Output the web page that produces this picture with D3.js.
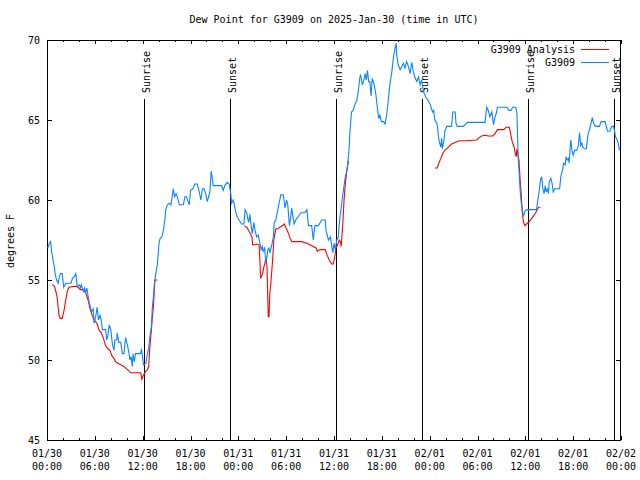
<!DOCTYPE html>
<html>
<head>
<meta charset="utf-8">
<script src="https://cdn.jsdelivr.net/npm/d3@7"></script>
<style>
html,body{margin:0;padding:0;background:#fff;}
svg{display:block;}
text{font-family:"DejaVu Sans Mono","Liberation Mono",monospace;font-size:10px;fill:#000;}
</style>
</head>
<body>
<script>
// ---- data (hours since 2025-01-30 00:00 UTC) ----
const titleText = "Dew Point for G3909 on 2025-Jan-30 (time in UTC)";
const yLabel = "degrees F";
const yTicks = [45, 50, 55, 60, 65, 70];
const xTickHours = [0, 6, 12, 18, 24, 30, 36, 42, 48, 54, 60, 66, 72];
const xTickDates = ["01/30","01/30","01/30","01/30","01/31","01/31","01/31","01/31","02/01","02/01","02/01","02/01","02/02"];
const xTickTimes = ["00:00","06:00","12:00","18:00","00:00","06:00","12:00","18:00","00:00","06:00","12:00","18:00","00:00"];
const sunLabels = ["Sunrise","Sunset","Sunrise","Sunset","Sunrise","Sunset"];
const sunHours = [12.2, 23.0, 36.25, 47.05, 60.3, 71.15];
const seriesNames = ["G3909 Analysis", "G3909"];

const stationHours = [0.1,0.3,0.45,0.55,0.8,0.9,1.0,1.2,1.4,1.5,1.7,1.9,2.1,2.35,3.0,3.2,3.4,3.6,3.7,3.8,4.05,4.2,4.3,4.55,4.7,4.85,5.0,5.15,5.3,5.5,5.6,5.8,5.9,6.1,6.3,6.45,6.65,6.8,6.95,7.35,7.5,7.65,7.8,8.0,8.2,8.4,8.5,8.75,8.8,9.0,9.25,9.45,9.65,9.85,10.1,10.3,10.4,10.55,10.7,10.8,10.95,11.1,11.75,11.85,12.0,12.1,12.4,12.6,12.75,12.9,13.1,13.2,13.35,13.5,13.65,13.85,14.05,14.2,14.4,14.6,14.8,14.9,15.1,15.35,15.55,15.7,15.85,16.0,16.2,16.35,16.6,17.1,17.3,17.5,17.7,17.85,18.0,18.3,18.55,18.85,19.1,19.3,19.5,19.7,19.9,20.1,20.3,20.45,20.6,20.7,20.85,21.9,22.1,22.3,22.6,22.85,23.05,23.15,23.35,23.5,23.7,23.9,24.1,24.4,24.7,24.85,25.05,25.15,25.3,25.45,25.6,25.75,25.95,26.1,26.3,26.5,26.7,26.85,27.0,27.1,27.3,27.45,27.55,27.7,27.85,27.95,28.2,28.4,28.5,28.7,28.95,29.15,29.35,29.65,29.85,30.05,30.2,30.4,30.55,30.7,30.85,31.0,31.2,31.5,31.85,32.35,32.6,32.8,33.2,33.4,33.6,34.05,34.45,34.9,35.0,35.3,35.55,35.85,36.0,36.15,36.35,36.55,36.65,36.8,36.95,37.15,37.4,37.6,37.75,37.9,38.0,38.2,38.4,38.6,38.85,39.05,39.25,39.35,39.55,39.75,39.9,40.05,40.2,40.35,40.5,40.65,40.8,41.05,41.25,41.4,41.6,41.75,41.95,42.2,42.4,42.6,42.8,43.0,43.25,43.45,43.65,43.8,43.85,44.05,44.3,44.5,44.7,44.9,45.1,45.3,45.55,45.75,45.95,46.15,46.4,46.6,46.8,47.0,47.2,47.55,47.7,48.05,48.35,48.5,48.65,48.9,49.0,49.1,49.2,49.4,49.5,49.6,49.8,49.9,50.15,50.75,50.9,51.2,51.3,51.45,52.2,52.45,52.7,54.95,55.15,55.35,55.55,55.8,56.0,56.2,56.35,56.5,57.0,57.7,57.95,58.2,58.4,58.8,58.95,59.1,59.2,59.35,59.45,59.65,59.8,59.95,60.15,61.4,61.6,61.75,61.9,62.05,62.2,62.35,62.5,62.6,62.75,62.9,63.0,63.2,63.35,63.5,63.7,64.3,64.45,64.7,64.8,65.0,65.1,65.25,65.4,65.5,65.6,65.7,65.85,66.0,66.2,66.45,66.65,66.8,66.95,67.1,67.2,67.4,67.65,67.85,68.05,68.25,68.4,68.55,68.8,69.3,69.5,70.0,70.15,70.3,70.6,70.85,71.05,71.2,71.3,71.45,71.65,71.8];
const stationValues = [57.0,57.3,57.4,56.9,56.1,55.9,55.45,55.0,54.8,55.1,55.4,55.4,54.55,54.8,54.8,55.1,55.2,55.4,55.0,54.6,54.7,54.5,54.7,54.3,54.5,54.2,54.5,54.0,53.6,53.2,53.0,53.2,52.3,52.7,53.3,52.5,52.8,52.5,51.9,51.9,51.25,51.6,52.2,51.9,51.0,50.6,51.25,51.25,51.7,51.1,51.1,50.4,50.4,51.4,50.9,50.4,50.0,50.2,49.6,50.4,49.9,50.4,50.4,50.7,50.1,49.7,49.8,50.4,50.7,51.45,52.1,53.2,54.0,54.9,55.4,56.0,57.3,57.6,57.7,58.1,58.85,59.4,59.7,59.8,59.7,60.2,60.7,60.2,60.4,60.2,59.7,59.7,60.2,60.2,59.9,59.7,60.6,60.7,61.0,61.0,60.5,60.0,60.7,60.7,60.4,59.9,60.25,60.6,61.8,61.5,60.9,60.9,60.6,60.9,61.1,61.0,60.4,59.8,60.0,59.7,59.2,58.9,58.75,58.5,58.5,59.4,59.2,58.9,58.6,59.1,58.4,57.9,58.6,58.1,57.7,57.8,57.3,56.9,57.1,56.8,57.0,56.1,56.3,56.9,57.0,56.7,57.2,57.7,58.6,58.75,59.4,59.9,60.35,60.3,59.5,60.0,59.7,58.4,58.85,59.5,58.95,58.5,58.75,58.95,59.2,59.2,59.4,58.4,58.4,57.5,58.4,58.4,58.75,58.75,58.1,57.5,57.7,56.7,57.3,56.9,57.5,57.7,58.45,59.1,59.7,60.5,61.4,61.8,62.4,63.25,64.3,65.5,65.6,65.95,66.2,66.8,67.7,67.8,67.2,67.5,67.9,67.5,68.1,67.4,67.4,66.5,67.6,67.2,66.6,65.95,65.1,65.3,64.9,64.9,64.75,65.3,66.2,67.2,68.0,68.9,69.5,69.8,69.1,68.45,68.15,68.35,68.55,68.25,68.65,68.4,67.9,68.6,68.05,67.65,67.4,67.7,67.2,67.5,66.8,66.4,66.3,66.0,65.5,65.6,65.0,64.8,64.5,63.95,63.65,63.3,63.85,63.2,63.75,64.3,64.6,64.6,65.5,65.5,64.8,64.6,64.6,64.7,64.85,64.85,65.8,65.6,65.2,65.5,64.7,65.2,65.4,65.8,65.8,65.8,65.6,65.6,65.8,65.8,65.4,62.7,61.9,60.6,60.0,59.2,59.05,59.3,59.4,59.4,60.1,60.6,61.25,61.45,60.7,60.4,60.9,60.5,60.7,60.4,61.15,61.35,61.05,60.5,60.7,60.7,61.45,61.95,62.3,62.2,62.7,62.5,62.6,62.3,63.1,63.75,63.1,62.8,63.1,63.1,63.4,64.2,63.4,63.55,63.3,63.2,63.2,64.05,64.4,64.8,65.15,64.8,64.6,64.6,64.9,64.9,64.6,64.3,64.3,64.6,64.6,64.3,63.95,63.85,63.55,63.1];

// analysis series; null marks a gap in the record
const analysisHours = [0.67,0.95,1.1,1.25,1.4,1.5,1.65,1.9,2.1,2.35,2.55,2.75,3.4,3.7,4.0,4.2,4.55,4.85,5.15,5.4,5.7,5.9,6.1,6.3,6.5,6.8,7.05,7.35,7.65,7.9,8.1,8.4,8.6,8.9,9.25,9.65,10.1,10.5,11.75,11.9,12.0,12.15,12.4,12.6,12.75,12.9,13.1,13.2,13.35,13.45,13.55,13.85,
  19.0,
  24.75,25.05,25.4,25.7,25.8,26.1,26.3,26.6,26.7,26.8,27.05,27.2,27.35,27.45,27.6,27.75,27.85,27.95,28.05,28.3,28.45,28.7,29.0,29.2,29.55,29.75,29.95,30.3,30.5,30.7,31.95,32.6,33.0,33.4,33.75,33.9,34.25,34.9,35.1,35.4,35.7,35.9,36.1,36.25,36.45,36.65,36.8,36.9,37.1,37.25,37.4,37.6,37.8,37.9,
  43.0,
  48.65,48.95,49.15,49.4,49.55,49.7,49.9,50.35,50.75,51.2,51.7,52.45,53.9,54.2,54.5,54.95,55.35,55.9,56.2,56.5,56.8,57.3,57.6,58.0,58.15,58.35,58.6,58.7,58.85,58.95,59.05,59.2,59.35,59.45,59.6,59.75,59.95,60.15,60.5,60.8,61.1,61.4,61.65,61.9];
const analysisValues = [54.7,54.6,54.3,54.0,53.3,52.8,52.6,52.6,53.0,53.75,54.3,54.55,54.6,54.6,54.5,54.4,54.4,54.2,53.75,53.2,52.75,52.5,52.4,52.25,51.9,51.7,51.4,50.9,50.7,50.6,50.3,50.1,49.9,49.8,49.7,49.6,49.4,49.2,49.2,48.8,48.95,49.1,49.3,49.4,49.6,50.8,51.9,52.6,53.3,54.3,55.0,55.0,
  null,
  58.4,58.3,58.0,57.7,57.2,57.2,57.25,57.2,56.25,55.1,55.4,55.8,56.1,56.45,55.8,52.7,52.7,54.2,54.6,56.25,57.5,58.2,58.2,58.3,58.4,58.5,58.3,57.9,57.6,57.4,57.4,57.3,57.2,57.1,57.0,56.8,56.9,56.9,56.6,56.25,56.0,56.0,56.45,57.0,57.2,57.5,57.4,57.1,58.45,59.9,60.9,61.8,62.4,62.4,
  null,
  62.0,62.0,62.3,62.6,62.8,62.95,63.1,63.3,63.5,63.6,63.7,63.7,63.75,63.9,64.0,64.05,64.0,64.0,64.15,64.4,64.4,64.4,64.55,64.55,64.15,63.65,63.3,63.0,62.7,63.2,62.9,62.5,61.25,60.6,59.4,58.65,58.4,58.5,58.65,58.85,59.05,59.3,59.55,59.55];

// ---- drawing ----
const W = 640, H = 480;
const L = 47, R = 621, T = 40, B = 440;
const svg = d3.select("body").append("svg").attr("width", W).attr("height", H);
svg.append("rect").attr("width", W).attr("height", H).attr("fill", "#fff");

const x = d3.scaleLinear().domain([0, 72]).range([L, R]);
const y = d3.scaleLinear().domain([45, 70]).range([B, T]);

const minorHours = d3.range(0, 73, 2).filter(h => h % 6 !== 0);

// axes with inward ticks on all four sides
function tickAxis(axisFn, scale, vals, size, tx, ty) {
  svg.append("g").attr("transform", `translate(${tx},${ty})`)
    .call(axisFn(scale).tickValues(vals).tickSizeInner(-size).tickSizeOuter(0).tickFormat(""))
    .call(g => g.select(".domain").remove())
    .call(g => g.selectAll("line").attr("stroke", "#000").attr("shape-rendering", "crispEdges"));
}
tickAxis(d3.axisBottom, x, xTickHours, 4, 0, B);
tickAxis(d3.axisBottom, x, minorHours, 2, 0, B);
tickAxis(d3.axisTop, x, xTickHours, 4, 0, T);
tickAxis(d3.axisTop, x, minorHours, 2, 0, T);
tickAxis(d3.axisLeft, y, yTicks, 5, L, 0);
tickAxis(d3.axisRight, y, yTicks, 5, R, 0);

// frame
svg.append("rect").attr("x", L + 0.5).attr("y", T + 0.5).attr("width", R - L - 1).attr("height", B - T)
  .attr("fill", "none").attr("stroke", "#000").attr("shape-rendering", "crispEdges");

// y tick labels
svg.append("g").selectAll("text").data(yTicks).join("text")
  .attr("x", L - 7).attr("y", d => y(d)).attr("dy", "0.35em")
  .attr("text-anchor", "end").text(d => d);

// x tick labels (two lines)
const xl = svg.append("g").selectAll("text").data(xTickHours).join("text")
  .attr("text-anchor", "middle");
xl.append("tspan").attr("x", d => x(d)).attr("y", 457).text((d, i) => xTickDates[i]);
xl.append("tspan").attr("x", d => x(d)).attr("y", 470).text((d, i) => xTickTimes[i]);

// title and axis label
svg.append("text").attr("x", 334).attr("y", 23).attr("text-anchor", "middle").text(titleText);
svg.append("text").attr("transform", "translate(14,241) rotate(-90)").attr("text-anchor", "middle").text(yLabel);

// sunrise / sunset markers
const sun = svg.append("g");
sunHours.forEach((h, i) => {
  const px = Math.round(x(h)) + 0.5;
  sun.append("line").attr("x1", px).attr("x2", px).attr("y1", 99).attr("y2", B)
    .attr("stroke", "#000").attr("stroke-width", 1);
  sun.append("text").attr("transform", `translate(${px + 5},93) rotate(-90)`)
    .attr("text-anchor", "start").text(sunLabels[i]);
});

// series
const stationData = stationHours.map((h, i) => ({h, v: stationValues[i]}));
const analysisData = analysisHours.map((h, i) => ({h, v: analysisValues[i]}));
const line = d3.line().defined(d => d.v !== null).x(d => x(d.h)).y(d => y(d.v));

svg.append("path").datum(analysisData).attr("d", line)
  .attr("fill", "none").attr("stroke", "#ff0000").attr("stroke-width", 1.1);
svg.append("path").datum(stationData).attr("d", line)
  .attr("fill", "none").attr("stroke", "#0a84ff").attr("stroke-width", 1.1);

// legend
const legColors = ["#ff0000", "#0a84ff"];
const legY = [49, 62];
seriesNames.forEach((n, i) => {
  svg.append("text").attr("x", 575).attr("y", legY[i]).attr("dy", "0.35em").attr("text-anchor", "end").text(n);
  svg.append("line").attr("x1", 581).attr("x2", 609).attr("y1", legY[i] + 0.5).attr("y2", legY[i] + 0.5)
    .attr("stroke", legColors[i]).attr("stroke-width", 1);
});
</script>
</body>
</html>
